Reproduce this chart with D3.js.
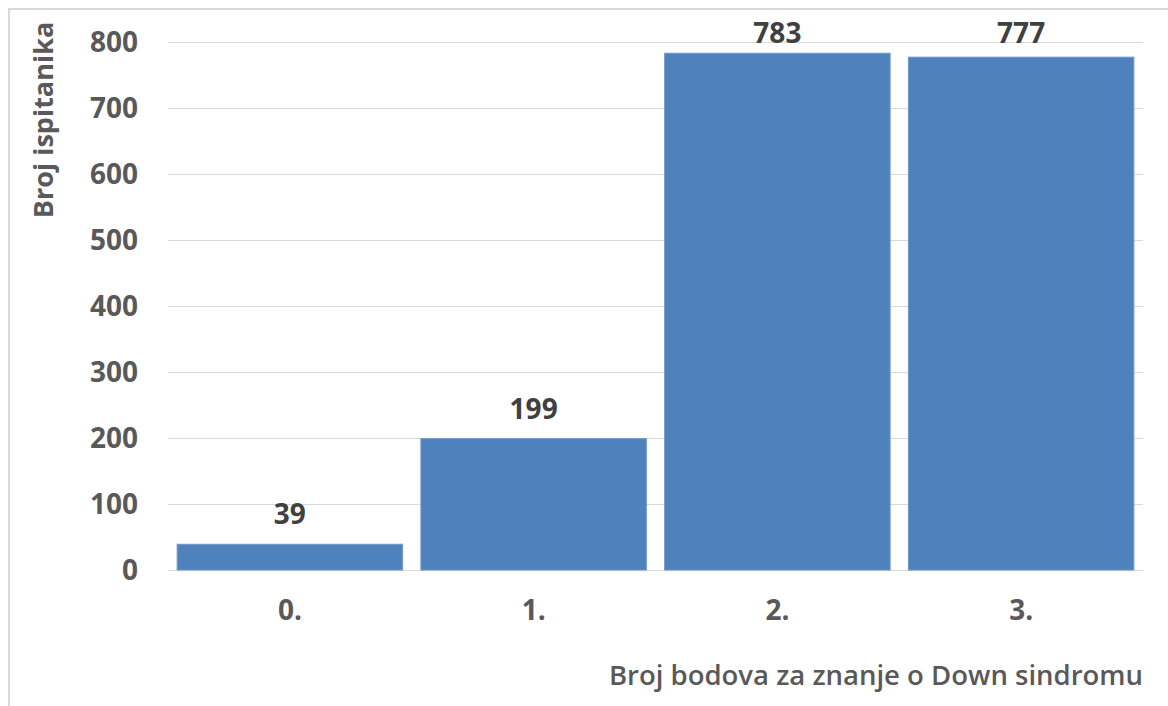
<!DOCTYPE html>
<html>
<head>
<meta charset="utf-8">
<script src="https://cdn.jsdelivr.net/npm/d3@7"></script>
<style>
  body { margin: 0; background: #fff; }
  svg { display: block; font-family: "Open Sans", sans-serif; }
</style>
</head>
<body>
<svg id="chart" width="1168" height="706"></svg>
<script>
const categories = ["0.", "1.", "2.", "3."];
const counts = [39, 199, 783, 777];
const yTicks = [0, 100, 200, 300, 400, 500, 600, 700, 800];

const width = 1168;
const height = 706;
const marginTop = 42;
const marginRight = 25;
const marginBottom = 136;
const marginLeft = 168;

const data = categories.map((c, i) => ({ category: c, count: counts[i] }));

const x = d3
  .scaleBand()
  .domain(categories)
  .range([marginLeft, width - marginRight])
  .paddingInner(0.075)
  .paddingOuter(0.0375);

const y = d3
  .scaleLinear()
  .domain([0, 800])
  .range([height - marginBottom, marginTop]);

const svg = d3.select("#chart");

// chart area border
svg
  .append("rect")
  .attr("x", 9)
  .attr("y", 9)
  .attr("width", 1300)
  .attr("height", 900)
  .attr("fill", "none")
  .attr("stroke", "#d9d9d9")
  .attr("stroke-width", 2);

// gridlines
svg
  .append("g")
  .selectAll("line")
  .data(yTicks)
  .join("line")
  .attr("x1", marginLeft)
  .attr("x2", width - marginRight)
  .attr("y1", (d) => y(d) + 0.5)
  .attr("y2", (d) => y(d) + 0.5)
  .attr("stroke", "#d9d9d9")
  .attr("stroke-width", 1);

// y tick labels
svg
  .append("g")
  .selectAll("text")
  .data(yTicks)
  .join("text")
  .attr("x", 138)
  .attr("y", (d) => y(d))
  .attr("dy", "0.35em")
  .attr("text-anchor", "end")
  .attr("font-size", 28)
  .attr("font-weight", 700)
  .attr("fill", "#595959")
  .text((d) => d);

// bars
svg
  .append("g")
  .selectAll("rect")
  .data(data)
  .join("rect")
  .attr("x", (d) => x(d.category))
  .attr("y", (d) => y(d.count))
  .attr("width", x.bandwidth())
  .attr("height", (d) => y(0) - y(d.count))
  .attr("fill", "#4f81bd")
  .attr("stroke", "#6f97c8")
  .attr("stroke-width", 1);

// value labels (kept inside the chart area at the top)
svg
  .append("g")
  .selectAll("text")
  .data(data)
  .join("text")
  .attr("x", (d) => x(d.category) + x.bandwidth() / 2)
  .attr("y", (d) => Math.max(y(d.count) - 20, 43))
  .attr("text-anchor", "middle")
  .attr("font-size", 28)
  .attr("font-weight", 700)
  .attr("fill", "#404040")
  .text((d) => d.count);

// x tick labels
svg
  .append("g")
  .selectAll("text")
  .data(categories)
  .join("text")
  .attr("x", (d) => x(d) + x.bandwidth() / 2)
  .attr("y", 620)
  .attr("text-anchor", "middle")
  .attr("font-size", 28)
  .attr("font-weight", 700)
  .attr("fill", "#595959")
  .text((d) => d);

// axis titles
svg
  .append("text")
  .attr("x", width - marginRight)
  .attr("y", 685)
  .attr("text-anchor", "end")
  .attr("font-size", 27.5)
  .attr("font-weight", 600)
  .attr("fill", "#595959")
  .text("Broj bodova za znanje o Down sindromu");

svg
  .append("text")
  .attr("transform", `translate(53,120) rotate(-90)`)
  .attr("text-anchor", "middle")
  .attr("font-size", 27)
  .attr("font-weight", 700)
  .attr("fill", "#595959")
  .text("Broj ispitanika");
</script>
</body>
</html>
